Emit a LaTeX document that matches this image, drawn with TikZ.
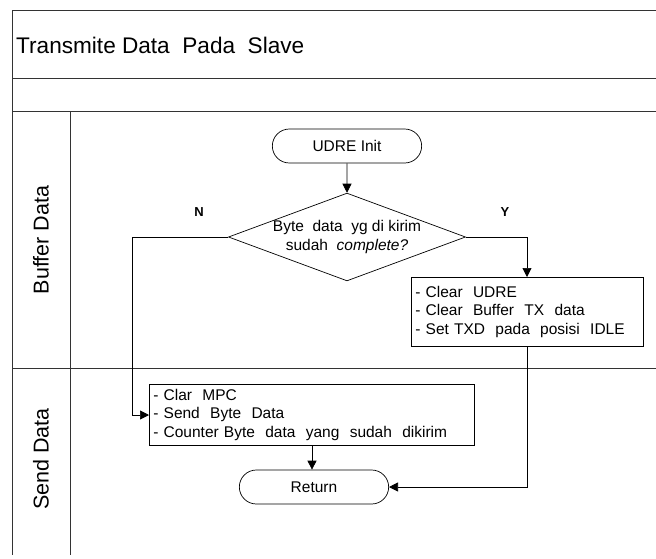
\documentclass[tikz,border=0pt]{standalone}
\usepackage{fontspec}
\setmainfont{Liberation Sans}
\usetikzlibrary{shapes.misc,shapes.geometric,arrows.meta}
\begin{document}
\begin{tikzpicture}[x=1pt,y=-1pt,
  frame/.style={draw=black!80,line width=0.8pt},
  term/.style={draw,rounded rectangle,line width=0.7pt,minimum width=156pt,minimum height=34pt,font=\fontsize{15.5}{18}\selectfont},
  decide/.style={draw,diamond,line width=0.7pt,minimum width=231pt,minimum height=86pt,aspect=2.7,inner sep=0pt,font=\fontsize{15.5}{18.5}\selectfont,align=center},
  proc/.style={draw,line width=0.7pt,align=left,anchor=north west,inner xsep=4pt,inner ysep=0pt,font=\fontsize{15.5}{18.5}\selectfont},
  flow/.style={line width=0.7pt,-{Triangle[length=9pt,width=9pt]}},
  lane/.style={rotate=90,font=\fontsize{21.5}{24}\selectfont},
  yn/.style={font=\bfseries\fontsize{13}{15}\selectfont}]
\useasboundingbox (0,0) rectangle (656,558);
% swimlane frame
\draw[frame] (656,10) -- (12,10) -- (12,555);
\draw[frame] (12,78) -- (656,78);
\draw[frame] (12,111) -- (656,111);
\draw[frame] (12,368) -- (656,368);
\draw[frame] (70,111) -- (70,555);
\node[anchor=west,inner sep=0pt,font=\fontsize{22.6}{24}\selectfont] (title) at (16,45) {Transmite Data\ \ Pada\ \ Slave};
\node[lane] (lbuf) at (41,240) {Buffer Data};
\node[lane] (lsend) at (41,459) {Send Data};
% flow nodes
\node[term] (init) at (347,146) {UDRE Init};
\node[decide] (dec) at (347,237) {Byte\ \ data\ \ yg di kirim\\sudah\ \ \textit{complete?}};
\node[proc,text width=224pt,minimum height=69pt] (clr) at (411,277) {- Clear\ \ UDRE\\- Clear\ \ Buffer\ \ TX\ \ data\\- Set\ TXD\ \ pada\ \ posisi\ \ IDLE};
\node[proc,text width=317pt,minimum height=61pt] (send) at (149,384) {- Clar\ \ MPC\\- Send\ \ Byte\ \ Data\\- Counter Byte\ \ data\ \ yang\ \ sudah\ \ dikirim};
\node[term] (ret) at (314,487) {Return};
\node[yn] (n) at (199,212) {N};
\node[yn] (y) at (505,212) {Y};
% connectors
\coordinate (nc1) at (132,237);
\coordinate (nc2) at (132,415);
\coordinate (yc1) at (527,237);
\coordinate (rc1) at (527,487);
\draw[flow] (init) -- (dec.north);
\draw[flow] (dec.west) -- (nc1) -- (nc2) -- (send.west |- nc2);
\draw[flow] (dec.east) -- (yc1) -- (yc1 |- clr.north);
\draw[flow] (clr.south -| rc1) -- (rc1) -- (ret.east);
\draw[flow] (send.south -| 312,0) -- (ret.north -| 312,0);
\end{tikzpicture}
\end{document}
